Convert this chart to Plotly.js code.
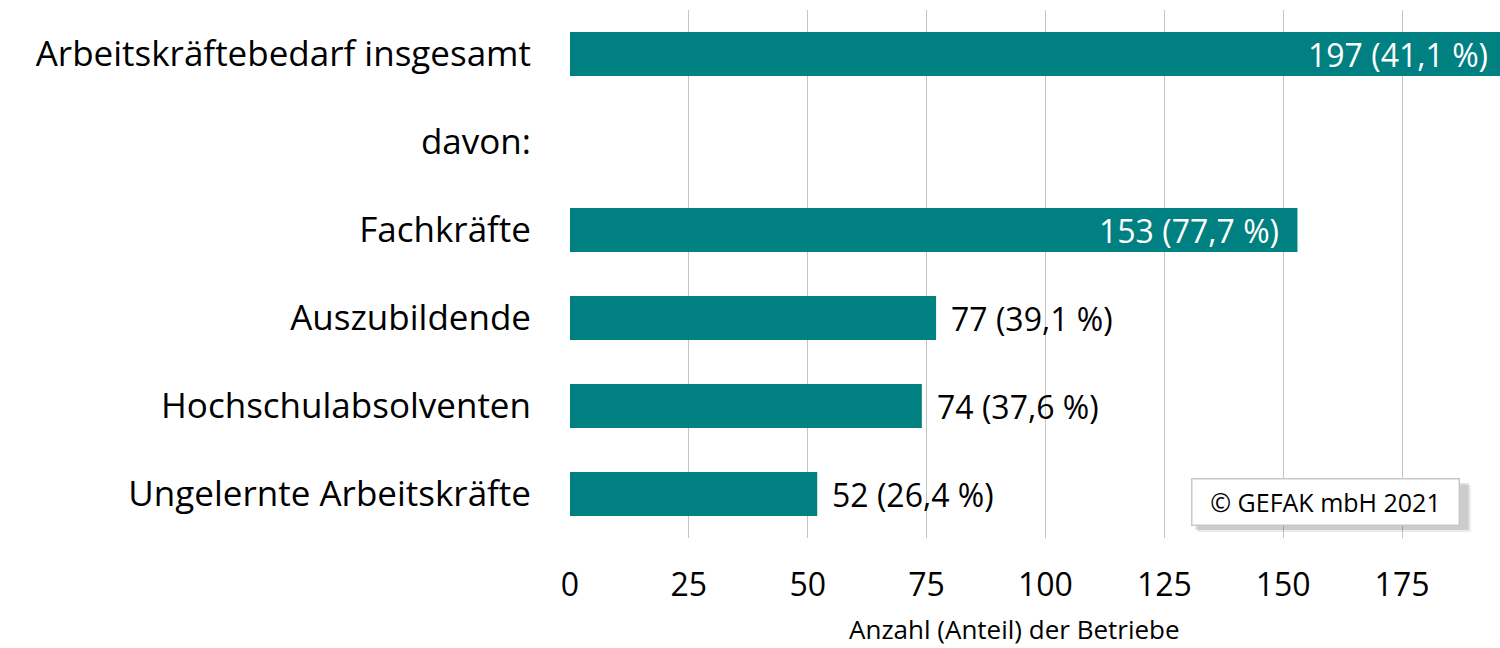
<!DOCTYPE html>
<html>
<head>
<meta charset="utf-8">
<script src="https://cdn.plot.ly/plotly-3.0.1.min.js"></script>
<style>html,body{margin:0;padding:0;background:#fff;}#chart{width:1500px;height:648px;}</style>
</head>
<body>
<div id="chart"></div>
<script>
const categories = ["Arbeitskräftebedarf insgesamt", "davon:", "Fachkräfte", "Auszubildende", "Hochschulabsolventen", "Ungelernte Arbeitskräfte"];
const counts = [197, null, 153, 77, 74, 52];
const shares = ["41,1", null, "77,7", "39,1", "37,6", "26,4"];
const insideLabel = [true, false, true, false, false, false];
const tickValues = [0, 25, 50, 75, 100, 125, 150, 175];
const axisTitle = "Anzahl (Anteil) der Betriebe";
const copyright = "© GEFAK mbH 2021";

const FONT = "'Open Sans', 'Noto Sans', sans-serif";
const XMAX = 195.6;

const labels = counts.map((v, i) => v == null ? "" : v + " (" + shares[i] + " %)");

const annotations = [];
counts.forEach((v, i) => {
  if (v == null) return;
  const inside = insideLabel[i];
  annotations.push({
    x: Math.min(v, XMAX), y: categories[i], xref: "x", yref: "y",
    text: labels[i], showarrow: false,
    xanchor: inside ? "right" : "left",
    xshift: inside ? (v > XMAX ? -10 : -16) : 13,
    font: {family: FONT, size: 32, color: inside ? "#ffffff" : "#000000"}
  });
});
annotations.push({
  xref: "paper", yref: "paper", x: 0.478, y: -0.1723, xanchor: "center", yanchor: "middle",
  text: axisTitle, showarrow: false, borderpad: 0,
  font: {family: FONT, size: 26, color: "#000000"}
});
annotations.push({
  xref: "paper", yref: "paper", x: 0.812, y: 0.069, xanchor: "center", yanchor: "middle",
  text: copyright, showarrow: false,
  width: 264, height: 43,
  bgcolor: "#ffffff", bordercolor: "#c8c8c8", borderwidth: 1.5,
  font: {family: FONT, size: 25, color: "#000000"}
});

const data = [{
  type: "bar",
  orientation: "h",
  y: categories,
  x: counts,
  width: 0.5,
  marker: {color: "#008080", line: {width: 0}},
  hoverinfo: "none",
  cliponaxis: true
}];

const layout = {
  width: 1500, height: 648,
  margin: {l: 570, r: 0, t: 10, b: 110},
  paper_bgcolor: "#ffffff", plot_bgcolor: "#ffffff",
  showlegend: false,
  font: {family: FONT, color: "#000000"},
  xaxis: {
    range: [0, XMAX],
    tickvals: tickValues,
    ticktext: tickValues.map(String),
    showgrid: true, gridcolor: "#c4c4c4", gridwidth: 1,
    zeroline: false, showline: false, ticks: "",
    ticklabelstandoff: 25,
    tickfont: {family: FONT, size: 32, color: "#000000"},
    fixedrange: true
  },
  yaxis: {
    type: "category",
    categoryorder: "array",
    categoryarray: categories,
    autorange: "reversed",
    showgrid: false, zeroline: false, showline: false, ticks: "",
    ticklabelstandoff: 38,
    tickfont: {family: FONT, size: 35, color: "#000000"},
    fixedrange: true
  },
  shapes: [
    {type: "rect", xref: "paper", yref: "paper", x0: 0.6747, x1: 0.9686, y0: 0.0114, y1: 0.1004, line: {width: 0}, fillcolor: "rgba(0,0,0,0.08)", layer: "above"},
    {type: "rect", xref: "paper", yref: "paper", x0: 0.6725, x1: 0.9664, y0: 0.0152, y1: 0.1042, line: {width: 0}, fillcolor: "rgba(0,0,0,0.13)", layer: "above"}
  ],
  annotations: annotations
};

Plotly.newPlot("chart", data, layout, {displayModeBar: false, staticPlot: true});
</script>
</body>
</html>
